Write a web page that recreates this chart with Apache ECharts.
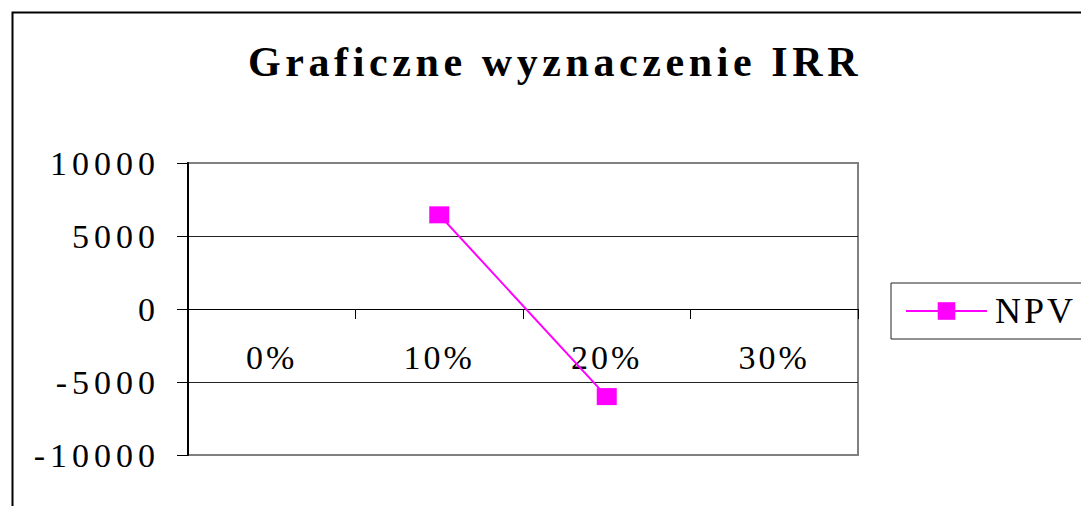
<!DOCTYPE html>
<html><head><meta charset="utf-8">
<script src="https://cdn.jsdelivr.net/npm/echarts@6/dist/echarts.min.js"></script>
<style>html,body{margin:0;padding:0;background:#fff}#chart{width:1081px;height:506px}</style>
</head><body><div id="chart"></div>
<script>
const titleText = 'Graficzne wyznaczenie IRR';
const categories = ['0%', '10%', '20%', '30%'];
const seriesName = 'NPV';
const npvValues = [null, 6450, -6000, null];
const yMin = -10000, yMax = 10000, yStep = 5000;

const FONT = "'Liberation Serif', 'Times New Roman', serif";
const MAGENTA = '#FF00FF';
const GRID = {left: 188, right: 223, top: 163, bottom: 51};
const plotH = 506 - GRID.top - GRID.bottom;
const zeroOffset = -plotH * (0 - yMin) / (yMax - yMin);

const chart = echarts.init(document.getElementById('chart'), null, {renderer: 'svg'});
chart.setOption({
  animation: false,
  backgroundColor: '#fff',
  title: {
    text: titleText, left: 248, top: 41, padding: 0,
    textStyle: {fontFamily: FONT, fontWeight: 'bold', fontSize: 42, color: '#000'}
  },
  graphic: [{
    type: 'rect', left: 10, top: 10, silent: true, z: -10,
    shape: {width: 1100, height: 600},
    style: {fill: 'none', stroke: '#000', lineWidth: 2}
  }],
  legend: {
    data: [seriesName], left: 891, top: 283, orient: 'vertical',
    padding: [10, 40, 10, 14], borderColor: '#222', borderWidth: 1,
    itemWidth: 81, itemHeight: 22, selectedMode: false,
    textStyle: {fontFamily: FONT, fontSize: 36, color: '#000', padding: [0, 0, 0, 3]}
  },
  grid: Object.assign({show: true, borderColor: '#808080', borderWidth: 2, backgroundColor: '#fff',
    containLabel: false, outerBoundsMode: 'none'}, GRID),
  xAxis: {
    type: 'category', data: categories, boundaryGap: true, position: 'bottom', offset: zeroOffset,
    axisLine: {onZero: false, lineStyle: {color: '#000', width: 1}},
    axisTick: {show: true, length: 10, lineStyle: {color: '#000', width: 1}},
    axisLabel: {interval: 0, margin: 31, fontFamily: FONT, fontSize: 34, color: '#000'},
    splitLine: {show: false}
  },
  yAxis: {
    type: 'value', min: yMin, max: yMax, interval: yStep,
    axisLine: {show: true, lineStyle: {color: '#000', width: 2}},
    axisTick: {show: true, length: 11, lineStyle: {color: '#000', width: 1}},
    axisLabel: {margin: 28, fontFamily: FONT, fontSize: 34, color: '#000', formatter: v => String(v)},
    splitLine: {show: true, showMinLine: false, showMaxLine: false, lineStyle: {color: '#222', width: 1}}
  },
  series: [{
    name: seriesName, type: 'line', data: npvValues,
    symbol: 'rect', symbolSize: [20, 17],
    lineStyle: {color: MAGENTA, width: 2},
    itemStyle: {color: MAGENTA}
  }]
});

function applySpacing() {
  document.querySelectorAll('#chart text').forEach(t => {
    const s = t.textContent;
    let ls = '3px';
    if (s === titleText) ls = '4.6px';
    else if (/^-?\d+$/.test(s)) ls = '5px';
    t.style.letterSpacing = ls;
  });
}
chart.on('finished', applySpacing);
applySpacing();
</script></body></html>
